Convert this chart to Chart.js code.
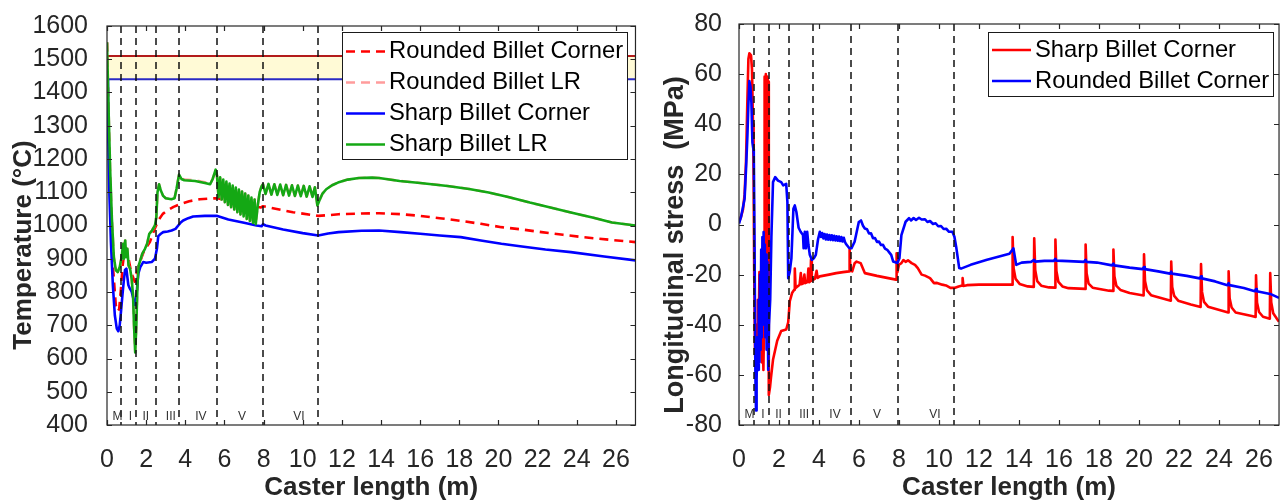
<!DOCTYPE html>
<html>
<head>
<meta charset="utf-8">
<script src="https://cdn.jsdelivr.net/npm/chart.js@4.4.1/dist/chart.umd.min.js"></script>
<style>
  html, body { margin: 0; padding: 0; background: #fff; }
  body { width: 1285px; height: 502px; position: relative; overflow: hidden; }
  canvas { position: absolute; top: 0; }
  #tempChart { left: 0; }
  #stressChart { left: 642px; }
</style>
</head>
<body>
<canvas id="tempChart" width="642" height="502"></canvas>
<canvas id="stressChart" width="643" height="502"></canvas>
<script>
// --- shared axis data ---
const casterTicks = [0, 2, 4, 6, 8, 10, 12, 14, 16, 18, 20, 22, 24, 26];
const tempTicks = [400, 500, 600, 700, 800, 900, 1000, 1100, 1200, 1300, 1400, 1500, 1600];
const stressTicks = [-80, -60, -40, -20, 0, 20, 40, 60, 80];
const zoneEdges = [0.73, 1.48, 2.52, 3.68, 5.62, 7.95, 10.77];
const zoneNames = ['M', 'I', 'II', 'III', 'IV', 'V', 'VI'];
const zoneLabelAt = [0.53, 1.2, 1.98, 3.26, 4.8, 6.9, 9.8];
const liquidusTemp = 1510;
const solidusTemp = 1440;

// --- temperature (°C) vs caster length (m) ---
const roundedCornerTemp = [[0,1550],[0.08,1300],[0.16,1100],[0.3,880],[0.45,760],[0.55,742],[0.62,748],[0.7,800],[0.8,880],[0.9,925],[1.0,930],[1.1,900],[1.2,870],[1.3,850],[1.41,831],[1.5,850],[1.6,875],[1.68,890],[1.9,925],[2.19,950],[2.4,985],[2.62,1015],[2.85,1035],[3.05,1044],[3.4,1056],[3.72,1064],[4.2,1073],[4.74,1079],[5.2,1081],[5.62,1082],[6.5,1072],[7.3,1062],[7.85,1054],[7.97,1058],[8.3,1054],[9.5,1040],[10.79,1029],[11.3,1031],[11.83,1034],[13.0,1036],[13.9,1037],[15.0,1034],[16.0,1029],[17.0,1022],[18.07,1014],[19.1,1005],[20.15,995],[21.2,988],[22.2,980],[23.3,972],[24.3,965],[25.7,957],[27.0,950]];

const roundedLRTemp = [[0,1551],[0.08,1350],[0.16,1170],[0.25,1020],[0.35,905],[0.45,866],[0.55,860],[0.65,875],[0.75,905],[0.82,945],[0.86,900],[0.93,955],[0.98,905],[1.04,930],[1.1,880],[1.18,870],[1.26,840],[1.33,790],[1.38,700],[1.44,625],[1.5,700],[1.56,830],[1.62,880],[1.7,895],[1.8,915],[1.94,930],[2.05,945],[2.16,975],[2.3,985],[2.45,1000],[2.52,1025],[2.58,1100],[2.66,1124],[2.75,1105],[2.87,1089],[3.0,1082],[3.29,1079],[3.45,1082],[3.55,1110],[3.68,1153],[3.8,1141],[3.95,1138],[4.5,1136],[5.0,1130],[5.27,1125],[5.4,1140],[5.55,1166],[5.62,1150],[5.70,1085],[5.78,1145],[5.86,1078],[5.94,1138],[6.02,1070],[6.10,1132],[6.18,1062],[6.26,1126],[6.34,1055],[6.42,1120],[6.50,1048],[6.58,1114],[6.66,1040],[6.74,1108],[6.82,1033],[6.90,1102],[6.98,1027],[7.06,1096],[7.14,1020],[7.22,1090],[7.30,1014],[7.38,1084],[7.46,1008],[7.54,1078],[7.60,1004],[7.7,1060],[7.8,1100],[7.9,1118],[7.97,1124],[8.1,1095],[8.25,1125],[8.4,1093],[8.55,1124],[8.7,1092],[8.85,1123],[9.0,1091],[9.15,1122],[9.3,1090],[9.45,1121],[9.6,1089],[9.75,1120],[9.9,1088],[10.05,1119],[10.2,1087],[10.35,1118],[10.5,1086],[10.62,1115],[10.75,1060],[10.85,1075],[11.0,1095],[11.2,1109],[11.5,1121],[11.8,1129],[12.3,1138],[12.87,1143],[13.5,1144],[13.9,1143],[14.95,1134],[16.0,1128],[17.4,1119],[18.5,1110],[19.5,1099],[20.5,1086],[21.6,1069],[22.6,1055],[23.7,1039],[24.8,1024],[25.8,1009],[27.0,1000]];

const sharpCornerTemp = [[0,1440],[0.05,1300],[0.12,1100],[0.2,950],[0.3,820],[0.4,730],[0.5,690],[0.58,682],[0.65,700],[0.72,745],[0.79,791],[0.86,835],[0.92,866],[0.99,870],[1.05,840],[1.09,821],[1.17,810],[1.26,801],[1.35,780],[1.43,761],[1.47,762],[1.52,800],[1.6,855],[1.7,875],[1.85,890],[2.0,888],[2.28,890],[2.45,900],[2.55,930],[2.62,968],[2.75,975],[2.87,980],[3.1,982],[3.3,985],[3.5,990],[3.64,1000],[3.75,1008],[3.89,1015],[4.15,1022],[4.4,1027],[5.0,1029],[5.6,1029],[6.2,1018],[7.0,1008],[7.64,1000],[7.9,998],[7.97,1004],[8.1,1000],[9.0,988],[10.0,977],[10.79,970],[11.3,976],[11.83,980],[13.0,984],[13.9,985],[15.0,980],[16.0,975],[17.0,970],[18.07,965],[19.1,955],[20.15,945],[21.2,937],[22.4,928],[23.7,920],[25.4,907],[27.0,895]];

const sharpLRTemp = [[0,1551],[0.08,1350],[0.16,1170],[0.25,1020],[0.35,905],[0.45,866],[0.55,860],[0.65,875],[0.75,905],[0.82,945],[0.86,900],[0.93,955],[0.98,905],[1.04,930],[1.1,880],[1.18,870],[1.26,840],[1.33,790],[1.38,700],[1.44,618],[1.5,700],[1.56,830],[1.62,880],[1.7,895],[1.8,915],[1.94,930],[2.05,945],[2.16,975],[2.3,985],[2.45,1000],[2.52,1025],[2.58,1100],[2.66,1124],[2.75,1105],[2.87,1089],[3.0,1082],[3.29,1079],[3.45,1082],[3.55,1110],[3.68,1153],[3.8,1140],[3.95,1136],[4.5,1134],[5.0,1128],[5.27,1124],[5.4,1140],[5.55,1168],[5.62,1150],[5.70,1085],[5.78,1145],[5.86,1078],[5.94,1138],[6.02,1070],[6.10,1132],[6.18,1062],[6.26,1126],[6.34,1055],[6.42,1120],[6.50,1048],[6.58,1114],[6.66,1040],[6.74,1108],[6.82,1033],[6.90,1102],[6.98,1027],[7.06,1096],[7.14,1020],[7.22,1090],[7.30,1014],[7.38,1084],[7.46,1008],[7.54,1078],[7.60,1004],[7.7,1060],[7.8,1100],[7.9,1118],[7.97,1124],[8.1,1095],[8.25,1125],[8.4,1093],[8.55,1124],[8.7,1092],[8.85,1123],[9.0,1091],[9.15,1122],[9.3,1090],[9.45,1121],[9.6,1089],[9.75,1120],[9.9,1088],[10.05,1119],[10.2,1087],[10.35,1118],[10.5,1086],[10.62,1115],[10.75,1060],[10.85,1075],[11.0,1095],[11.2,1109],[11.5,1121],[11.8,1129],[12.3,1138],[12.87,1143],[13.5,1144],[13.9,1143],[14.95,1134],[16.0,1128],[17.4,1119],[18.5,1110],[19.5,1099],[20.5,1086],[21.6,1069],[22.6,1055],[23.7,1039],[24.8,1024],[25.8,1009],[27.0,1000]];

// --- longitudinal stress (MPa) vs caster length (m) ---
const sharpCornerStress = [[0,1],[0.1,3],[0.2,6],[0.28,12],[0.35,25],[0.42,50],[0.47,66],[0.52,68.3],[0.6,67.5],[0.65,62],[0.7,40],[0.73,20],[0.76,-20],[0.8,-50],[0.83,-57],[0.86,-40],[0.9,-52],[0.94,-30],[0.98,-45],[1.02,-19],[1.06,-48],[1.1,-32],[1.14,-55],[1.18,-42],[1.22,-58],[1.25,-40],[1.28,59],[1.31,-5],[1.34,60],[1.37,-20],[1.41,59],[1.45,57],[1.49,-68],[1.55,-65],[1.6,-61],[1.7,-54],[1.91,-46.4],[2.11,-42.5],[2.36,-41.9],[2.46,-39],[2.54,-30.6],[2.66,-27.2],[2.76,-26],[2.79,-17.6],[2.83,-25.3],[3.03,-24],[3.09,-19.4],[3.14,-23.8],[3.2,-23.6],[3.27,-20],[3.31,-23.4],[3.42,-23],[3.47,-17.6],[3.51,-23],[3.57,-22.6],[3.6,-14],[3.64,-22.4],[3.8,-21.6],[3.88,-18.5],[3.93,-21.3],[4.04,-20.7],[4.5,-20],[4.86,-19.4],[5.2,-19],[5.5,-18.7],[5.53,-10],[5.57,-18.5],[5.66,-18.7],[5.78,-15.5],[5.88,-14.8],[6.08,-15.4],[6.29,-19.4],[6.9,-20.5],[7.4,-21.3],[7.85,-22],[7.88,-11.5],[7.92,-19],[8.0,-16],[8.12,-15.4],[8.22,-14.2],[8.33,-14.9],[8.45,-14.3],[8.63,-15.4],[8.8,-16.1],[8.94,-17.4],[9.13,-20],[9.3,-20.4],[9.55,-21.4],[9.75,-23.4],[9.9,-23.3],[10.16,-24],[10.35,-24.3],[10.57,-25.3],[10.77,-25.3],[10.98,-24.7],[11.16,-24.3],[11.18,-21.4],[11.22,-24.5],[11.4,-24.2],[12.0,-24],[13.0,-24],[13.66,-24],[13.68,-5],[13.73,-17.5],[13.83,-21.7],[14.03,-23.7],[14.44,-24.7],[14.74,-24.9],[14.76,-5.5],[14.81,-18.1],[14.91,-22.6],[15.11,-24.4],[15.5,-25.1],[15.80,-25.2],[15.82,-6],[15.87,-18.5],[15.97,-22.9],[16.17,-24.7],[16.47,-25.4],[17.31,-25.7],[17.33,-8],[17.38,-19.5],[17.48,-23.6],[17.68,-25.2],[18.5,-26.4],[18.70,-26.5],[18.72,-10],[18.77,-20.7],[18.87,-24.5],[19.07,-26.1],[19.53,-27.3],[20.23,-28.3],[20.25,-11.9],[20.30,-22.6],[20.40,-26.3],[20.60,-28.2],[21.59,-30.4],[21.61,-14.8],[21.66,-25],[21.76,-28.5],[21.96,-30.4],[22.59,-31.9],[23.08,-32.9],[23.10,-15.8],[23.15,-26.9],[23.25,-30.9],[23.45,-32.8],[24.46,-35.1],[24.48,-18.7],[24.53,-29.4],[24.63,-33.1],[24.83,-35.1],[25.64,-36.5],[25.83,-36.9],[25.85,-20.3],[25.90,-31.1],[26.00,-34.9],[26.20,-36.8],[26.54,-37.6],[26.56,-19.4],[26.61,-31],[26.71,-35.4],[26.91,-37.8],[27.0,-38.8]];

const roundedCornerStress = [[0,0.4],[0.1,3],[0.2,7],[0.28,10.3],[0.35,22],[0.42,35.4],[0.47,48],[0.52,57.2],[0.57,55],[0.62,48.6],[0.67,32.8],[0.72,30],[0.74,28],[0.78,-10],[0.82,-60],[0.85,-74.2],[0.88,-62],[0.92,-45],[0.95,-58],[0.99,-30],[1.02,-55],[1.05,-20],[1.08,-50],[1.11,-10],[1.14,-45],[1.17,-5],[1.2,-35],[1.23,-3],[1.26,-40],[1.29,-8],[1.32,-45],[1.35,-12],[1.38,-50],[1.42,-15],[1.46,-58],[1.5,-40],[1.56,-30],[1.62,-5],[1.7,16.9],[1.81,18.9],[1.95,17.5],[2.11,16.9],[2.21,15.6],[2.36,16.2],[2.42,9],[2.46,-21.4],[2.54,-18.7],[2.62,-13.5],[2.72,6.3],[2.79,7.6],[2.87,5],[2.98,-1.3],[3.08,-2.9],[3.2,-4.2],[3.23,-9.5],[3.29,-2.9],[3.35,-9.5],[3.41,-2.9],[3.47,-8],[3.54,-12.1],[3.64,-14.1],[3.74,-13.5],[3.84,-12.1],[3.95,-6],[4.04,-2.9],[4.1,-5],[4.16,-3.4],[4.22,-5.6],[4.28,-3.8],[4.34,-6],[4.4,-4],[4.46,-6.1],[4.52,-4.2],[4.58,-6.2],[4.64,-4.3],[4.7,-6.3],[4.76,-4.5],[4.82,-6.4],[4.88,-4.7],[4.94,-6.5],[5.0,-4.8],[5.06,-6.6],[5.12,-5],[5.18,-6.8],[5.24,-5.3],[5.3,-7],[5.37,-8],[5.52,-9.5],[5.62,-9.5],[5.78,-6.9],[5.99,1],[6.1,1.6],[6.2,-0.5],[6.29,-1.6],[6.4,-1.9],[6.5,-3.6],[6.6,-3.5],[6.7,-5.5],[6.8,-5.4],[6.9,-7],[7.0,-6.8],[7.1,-8.2],[7.2,-8.1],[7.3,-9.6],[7.41,-10.1],[7.52,-11.2],[7.61,-12.1],[7.71,-14.8],[7.92,-15.4],[8.02,-13.5],[8.12,-4.2],[8.33,1.1],[8.5,2.5],[8.6,1.6],[8.73,2.6],[8.85,1.8],[9.0,2.7],[9.13,2.0],[9.3,2.1],[9.42,1.0],[9.55,1.4],[9.7,0.2],[9.83,0.5],[9.96,-0.7],[10.1,-0.6],[10.23,-1.8],[10.36,-1.7],[10.5,-2.9],[10.67,-2.9],[10.77,-4.9],[10.87,-9.5],[11.01,-17.4],[11.1,-17.6],[11.58,-16.1],[12.4,-14.1],[13.01,-12.8],[13.52,-11.7],[13.68,-10],[13.72,-9.5],[13.86,-16.1],[14.13,-15.2],[14.6,-14.9],[14.76,-14.1],[14.8,-14.8],[15.27,-14.5],[15.75,-14.5],[15.82,-13.7],[15.86,-14.4],[16.47,-14.6],[17.25,-14.9],[17.33,-14.1],[17.37,-14.9],[17.9,-15.2],[18.65,-16.3],[18.72,-15.6],[18.76,-16.3],[19.53,-17.2],[20.18,-17.8],[20.25,-17],[20.29,-17.8],[20.96,-18.7],[21.55,-19.6],[21.61,-18.8],[21.65,-19.6],[22.39,-20.5],[23.03,-21.5],[23.1,-20.7],[23.14,-21.5],[23.81,-22.7],[24.42,-24.2],[24.48,-23.4],[24.52,-24.2],[25.24,-25.3],[25.79,-26.6],[25.85,-25.8],[25.89,-26.6],[26.56,-27.7],[27.0,-29.3]];

const FONT = '"Liberation Sans", Arial, Helvetica, sans-serif';
const INK = '#262626';
const toPoints = pairs => pairs.map(([x, y]) => ({ x, y }));

// MATLAB-looking frame: box, inward ticks, zone markers, boxed legend, axis titles
const matlabAxes = {
  id: 'matlabAxes',
  afterDatasetsDraw(chart, args, opts) {
    const { ctx, chartArea: a } = chart;
    const xs = chart.scales.x, ys = chart.scales.y;
    ctx.save();

    // cooling-zone boundaries
    ctx.strokeStyle = '#111';
    ctx.lineWidth = 1.5;
    ctx.setLineDash([7, 5]);
    zoneEdges.forEach(v => {
      const px = Math.round(xs.getPixelForValue(v));
      ctx.beginPath();
      ctx.moveTo(px, a.top);
      ctx.lineTo(px, a.bottom);
      ctx.stroke();
    });
    ctx.setLineDash([]);

    ctx.font = '12px ' + FONT;
    ctx.fillStyle = '#333';
    ctx.textAlign = 'center';
    ctx.textBaseline = 'middle';
    zoneNames.forEach((n, i) => {
      ctx.fillText(n, xs.getPixelForValue(zoneLabelAt[i]), a.bottom - opts.zoneLabelOffset);
    });

    // box + inward ticks
    ctx.strokeStyle = INK;
    ctx.lineWidth = 1.2;
    ctx.strokeRect(a.left, a.top, a.right - a.left, a.bottom - a.top);
    ctx.beginPath();
    xs.ticks.forEach(t => {
      const px = Math.round(xs.getPixelForValue(t.value)) + 0.5;
      ctx.moveTo(px, a.bottom); ctx.lineTo(px, a.bottom - 5);
      ctx.moveTo(px, a.top); ctx.lineTo(px, a.top + 5);
    });
    ys.ticks.forEach(t => {
      const py = Math.round(ys.getPixelForValue(t.value)) + 0.5;
      ctx.moveTo(a.left, py); ctx.lineTo(a.left + 5, py);
      ctx.moveTo(a.right, py); ctx.lineTo(a.right - 5, py);
    });
    ctx.stroke();

    // legend box
    const lg = opts.legend;
    const items = chart.data.datasets.filter(d => d.label);
    ctx.fillStyle = '#fff';
    ctx.fillRect(lg.x, lg.y, lg.w, lg.h);
    ctx.strokeStyle = '#1a1a1a';
    ctx.lineWidth = 1;
    ctx.strokeRect(lg.x + 0.5, lg.y + 0.5, lg.w, lg.h);
    ctx.font = '23.8px ' + FONT;
    ctx.textAlign = 'left';
    ctx.textBaseline = 'middle';
    items.forEach((d, i) => {
      const cy = lg.y + lg.firstRow + i * lg.rowStep;
      ctx.strokeStyle = d.borderColor;
      ctx.lineWidth = d.borderWidth;
      ctx.setLineDash(d.borderDash || []);
      ctx.beginPath();
      ctx.moveTo(lg.x + 4, cy);
      ctx.lineTo(lg.x + 43, cy);
      ctx.stroke();
      ctx.setLineDash([]);
      ctx.fillStyle = '#000';
      ctx.fillText(d.label, lg.x + 47, cy);
    });

    // axis titles
    ctx.fillStyle = INK;
    ctx.font = 'bold 26px ' + FONT;
    ctx.textAlign = 'center';
    ctx.textBaseline = 'alphabetic';
    ctx.fillText(opts.xTitle, (a.left + a.right) / 2, 495);
    ctx.translate(opts.yTitleX, opts.yTitleY);
    ctx.rotate(-Math.PI / 2);
    ctx.font = 'bold ' + opts.yTitleSize + 'px ' + FONT;
    ctx.fillText(opts.yTitle, 0, 0);
    ctx.restore();
  }
};

function scalesFor(yTickValues, yWidth, yPad) {
  const tickFont = { family: FONT, size: 25 };
  return {
    x: {
      type: 'linear', min: 0, max: 27,
      grid: { display: false }, border: { display: false },
      afterBuildTicks: s => { s.ticks = casterTicks.map(v => ({ value: v })); },
      afterFit: s => { s.height = 77; },
      ticks: { font: tickFont, color: INK, padding: 12, maxRotation: 0, autoSkip: false, callback: v => String(v) }
    },
    y: {
      type: 'linear', min: yTickValues[0], max: yTickValues[yTickValues.length - 1],
      grid: { display: false }, border: { display: false },
      afterBuildTicks: s => { s.ticks = yTickValues.map(v => ({ value: v })); },
      afterFit: s => { s.width = yWidth; },
      ticks: { font: tickFont, color: INK, padding: yPad, autoSkip: false, callback: v => String(v) }
    }
  };
}

const lineDefaults = { pointRadius: 0, tension: 0, fill: false, borderWidth: 2.6, borderJoinStyle: 'round' };

new Chart(document.getElementById('tempChart'), {
  type: 'line',
  data: {
    datasets: [
      { ...lineDefaults, label: 'Rounded Billet Corner', data: toPoints(roundedCornerTemp), borderColor: '#ff0000', borderDash: [9, 6], order: 4 },
      { ...lineDefaults, label: 'Rounded Billet LR', data: toPoints(roundedLRTemp), borderColor: '#ff9c9c', borderDash: [9, 6], order: 3 },
      { ...lineDefaults, label: 'Sharp Billet Corner', data: toPoints(sharpCornerTemp), borderColor: '#0000ff', order: 2 },
      { ...lineDefaults, label: 'Sharp Billet LR', data: toPoints(sharpLRTemp), borderColor: '#14a814', order: 1 },
      { ...lineDefaults, label: '', data: [{ x: 0, y: liquidusTemp }, { x: 27, y: liquidusTemp }], borderColor: '#b31b1b', borderWidth: 2, fill: '+1', backgroundColor: '#fffad6', order: 6 },
      { ...lineDefaults, label: '', data: [{ x: 0, y: solidusTemp }, { x: 27, y: solidusTemp }], borderColor: '#2a2ac4', borderWidth: 2, order: 5 }
    ]
  },
  options: {
    responsive: false, animation: false,
    layout: { padding: { top: 22, right: 5, left: 0, bottom: 0 } },
    scales: scalesFor(tempTicks, 107, 11),
    plugins: {
      legend: { display: false }, tooltip: { enabled: false },
      matlabAxes: {
        legend: { x: 342, y: 32, w: 285, h: 127, firstRow: 19.5, rowStep: 31 },
        zoneLabelOffset: 8,
        xTitle: 'Caster length (m)',
        yTitle: 'Temperature (°C)', yTitleX: 31, yTitleY: 245, yTitleSize: 26
      }
    }
  },
  plugins: [matlabAxes]
});

new Chart(document.getElementById('stressChart'), {
  type: 'line',
  data: {
    datasets: [
      { ...lineDefaults, label: 'Sharp Billet Corner', data: toPoints(sharpCornerStress), borderColor: '#ff0000', order: 2 },
      { ...lineDefaults, label: 'Rounded Billet Corner', data: toPoints(roundedCornerStress), borderColor: '#0000ff', order: 1 }
    ]
  },
  options: {
    responsive: false, animation: false,
    layout: { padding: { top: 21, right: 2, left: 0, bottom: 0 } },
    scales: scalesFor(stressTicks, 97, 9),
    plugins: {
      legend: { display: false }, tooltip: { enabled: false },
      matlabAxes: {
        legend: { x: 346, y: 32, w: 285, h: 64, firstRow: 18, rowStep: 31 },
        zoneLabelOffset: 10,
        xTitle: 'Caster length (m)',
        yTitle: 'Longitudinal stress  (MPa)', yTitleX: 41, yTitleY: 245, yTitleSize: 27
      }
    }
  },
  plugins: [matlabAxes]
});
</script>
</body>
</html>
